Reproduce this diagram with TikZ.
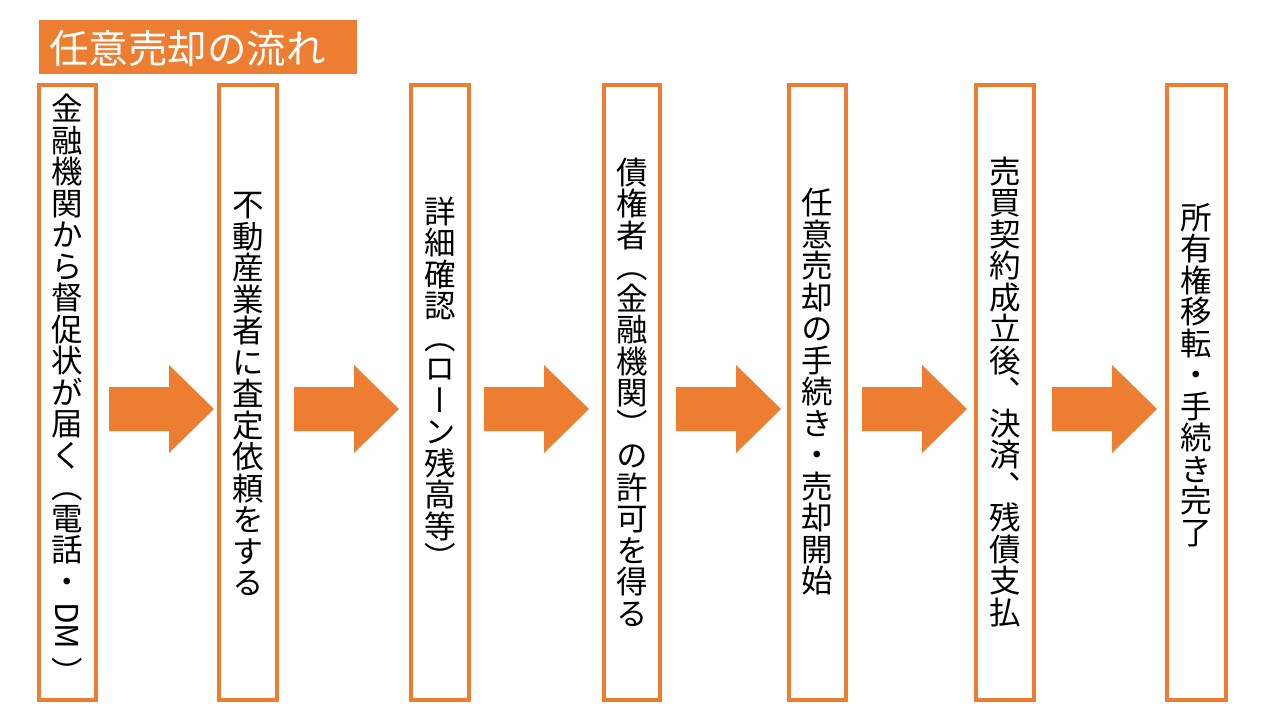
\documentclass[tikz,border=0pt]{standalone}
\usepackage{fontspec}
\usepackage{graphicx}
\newfontfamily\vfont[RawFeature=+vert]{Noto Sans CJK JP}
\newfontfamily\tfont{Noto Sans CJK JP}
\definecolor{acc}{HTML}{ED7D31}
\tikzset{
  stepbox/.style={draw=acc, line width=4pt, fill=white},
  vtext/.style={align=center, inner sep=0pt, text=black, font=\vfont\fontsize{31.5}{31.5}\selectfont},
  titlebox/.style={fill=acc, draw=none},
  blockarrow/.pic={\fill[acc] (0,-22) -- (60,-22) -- (60,-44) -- (105,0) -- (60,44) -- (60,22) -- (0,22) -- cycle;}
}
\begin{document}
\begin{tikzpicture}[x=1pt,y=-1pt]
\useasboundingbox (0,0) rectangle (1280,720);
% title
\fill[titlebox] (39,20) rectangle (357,74);
\node[anchor=west, inner sep=0pt, text=white, font=\tfont\fontsize{39.5}{39.5}\selectfont] (title) at (49,49) {任意売却の流れ};
% boxes
\draw[stepbox] (39,85) rectangle (96,700);
\draw[stepbox] (219,85) rectangle (277,700);
\draw[stepbox] (411,85) rectangle (469,700);
\draw[stepbox] (604,85) rectangle (660,700);
\draw[stepbox] (789,85) rectangle (846,700);
\draw[stepbox] (976,85) rectangle (1034,700);
\draw[stepbox] (1167,85) rectangle (1226,700);
% texts
\node[vtext, anchor=north] (t1) at (67.5,94) {金\\融\\機\\関\\か\\ら\\督\\促\\状\\が\\届\\く\\（\\電\\話\\・\\[4pt]\rotatebox[origin=c]{-90}{\kern4pt DM\kern4pt}\\[4pt]）};
\node[vtext] (t2) at (248,394) {不\\動\\産\\業\\者\\に\\査\\定\\依\\頼\\を\\す\\る};
\node[vtext] (t3) at (440,383) {詳\\細\\確\\認\\（\\ロ\\ー\\ン\\残\\高\\等\\）};
\node[vtext] (t4) at (632,392) {債\\権\\者\\（\\金\\融\\機\\関\\）\\の\\許\\可\\を\\得\\る};
\node[vtext] (t5) at (817.5,392) {任\\意\\売\\却\\の\\手\\続\\き\\・\\売\\却\\開\\始};
\node[vtext] (t6) at (1005,392) {売\\買\\契\\約\\成\\立\\後\\、\\決\\済\\、\\残\\債\\支\\払};
\node[vtext] (t7) at (1196.5,375) {所\\有\\権\\移\\転\\・\\手\\続\\き\\完\\了};
% arrows
\pic at (109,409) {blockarrow};
\pic at (294,409) {blockarrow};
\pic at (484,409) {blockarrow};
\pic at (676,409) {blockarrow};
\pic at (862,409) {blockarrow};
\pic at (1052,409) {blockarrow};
\end{tikzpicture}
\end{document}
